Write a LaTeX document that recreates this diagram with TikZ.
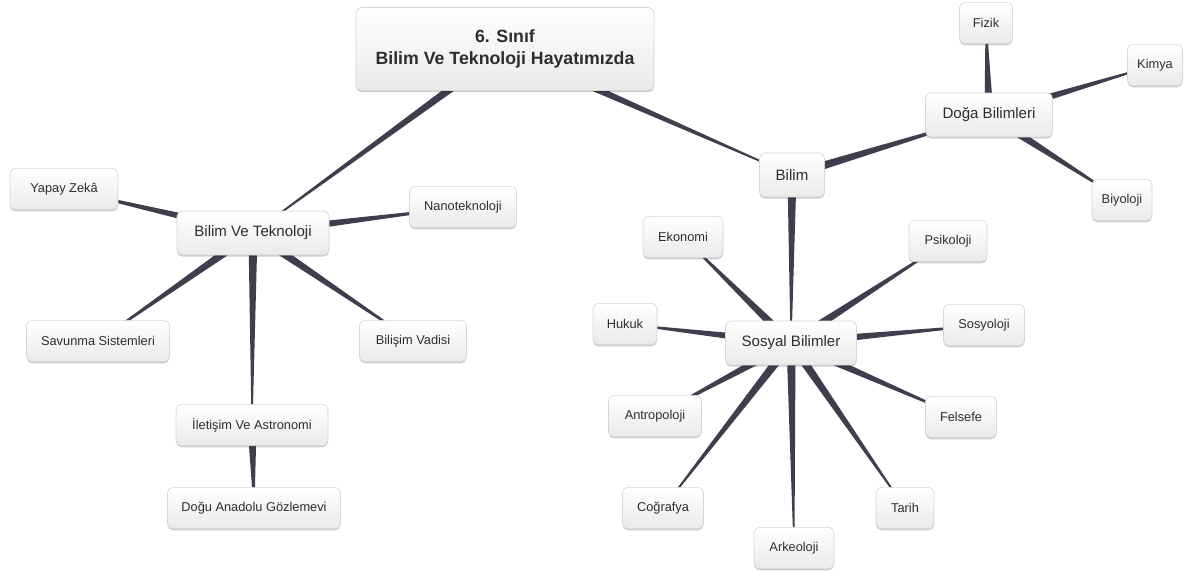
\documentclass[tikz,border=0pt]{standalone}
\usepackage{fontspec}
\setmainfont{Liberation Sans}
\usetikzlibrary{calc,shadows,backgrounds}

\definecolor{linkcol}{RGB}{62,62,78}
\definecolor{boxline}{RGB}{214,214,214}
\definecolor{boxlow}{RGB}{234,234,234}
\definecolor{txtcol}{RGB}{45,45,45}

\tikzset{every picture/.style={line width=0.75pt}}
\tikzset{
  box/.style={draw=boxline, line width=0.5pt, rounded corners=4pt, top color=white, bottom color=boxlow,
    text=txtcol, inner sep=1pt, align=center,
    drop shadow={shadow xshift=0pt, shadow yshift=-1.2pt, opacity=0.2, fill=black}},
  leaf/.style={box, minimum height=31pt, font=\fontsize{9.6}{11}\selectfont},
  mid/.style={box, minimum height=33pt, font=\fontsize{11.3}{13}\selectfont},
  head/.style={box, minimum height=62.25pt, font=\bfseries\fontsize{13.3}{17}\selectfont},
  link/.style={fill=linkcol}
}
% tapered connector: wide at the parent, fine at the child
\newcommand{\taper}[2]{\fill[link] ($(#1)!3.4pt!90:(#2)$) -- ($(#1)!3.4pt!-90:(#2)$) -- ($(#2)!0.35pt!90:(#1)$) -- ($(#2)!0.35pt!-90:(#1)$) -- cycle;}

\begin{document}
\begin{tikzpicture}[x=0.75pt,y=0.75pt,yscale=-1,xscale=1]
\useasboundingbox (0,0) rectangle (1189,571);

% Title Node
\node [head, minimum width=223.5pt] (title) at (505,49) {6. Sınıf\\Bilim Ve Teknoloji Hayatımızda};

% Left branch
\node [mid, minimum width=114pt] (bvt) at (253,233) {Bilim Ve Teknoloji};
\node [leaf, minimum width=81pt] (yapay) at (64,189) {Yapay Zekâ};
\node [leaf, minimum width=80.25pt] (nano) at (463,207) {Nanoteknoloji};
\node [leaf, minimum width=107.25pt] (savunma) at (98,341) {Savunma Sistemleri};
\node [leaf, minimum width=80.25pt] (bilisim) at (413,341) {Bilişim Vadisi};
\node [leaf, minimum width=114pt] (iletisim) at (252,425) {İletişim Ve Astronomi};
\node [leaf, minimum width=129.75pt] (dogu) at (254,508) {Doğu Anadolu Gözlemevi};

% Right branch
\node [mid, minimum width=48.75pt] (bilim) at (792,175) {Bilim};
\node [mid, minimum width=95.25pt] (doga) at (989,115) {Doğa Bilimleri};
\node [leaf, minimum width=39.75pt] (fizik) at (986,23) {Fizik};
\node [leaf, minimum width=41.25pt] (kimya) at (1155,65) {Kimya};
\node [leaf, minimum width=45pt] (biyoloji) at (1122,200) {Biyoloji};

\node [mid, minimum width=98.25pt] (sosyal) at (791,343) {Sosyal Bilimler};
\node [leaf, minimum width=60pt] (ekonomi) at (683,237) {Ekonomi};
\node [leaf, minimum width=58.5pt] (psikoloji) at (948,241) {Psikoloji};
\node [leaf, minimum width=48pt] (hukuk) at (625,324) {Hukuk};
\node [leaf, minimum width=60.75pt] (sosyoloji) at (984,325) {Sosyoloji};
\node [leaf, minimum width=69.75pt] (antropoloji) at (655,416) {Antropoloji};
\node [leaf, minimum width=53.25pt] (felsefe) at (961,417) {Felsefe};
\node [leaf, minimum width=60.75pt] (cografya) at (663,508) {Coğrafya};
\node [leaf, minimum width=43.5pt] (tarih) at (905,508) {Tarih};
\node [leaf, minimum width=60pt] (arkeoloji) at (794,548) {Arkeoloji};

% Connectors
\begin{scope}[on background layer]
\taper{title}{bvt}
\taper{title}{bilim}
\taper{bvt}{yapay}
\taper{bvt}{nano}
\taper{bvt}{savunma}
\taper{bvt}{bilisim}
\taper{bvt}{iletisim}
\taper{iletisim}{dogu}
\taper{bilim}{doga}
\taper{doga}{fizik}
\taper{doga}{kimya}
\taper{doga}{biyoloji}
\taper{bilim}{sosyal}
\taper{sosyal}{ekonomi}
\taper{sosyal}{psikoloji}
\taper{sosyal}{hukuk}
\taper{sosyal}{sosyoloji}
\taper{sosyal}{antropoloji}
\taper{sosyal}{felsefe}
\taper{sosyal}{cografya}
\taper{sosyal}{tarih}
\taper{sosyal}{arkeoloji}
\end{scope}
\end{tikzpicture}
\end{document}
